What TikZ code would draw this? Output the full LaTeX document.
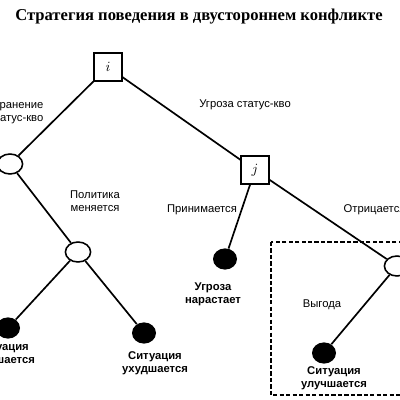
\documentclass[tikz,border=0pt]{standalone}
\usepackage{fontspec}
\setmainfont{Liberation Sans}
\newfontfamily\titlefont{Liberation Serif}
\usetikzlibrary{shapes.geometric}
\tikzset{
 decbox/.style={draw,line width=1.3pt,minimum size=6.8mm,inner sep=0pt,font=\itshape},
 chance/.style={ellipse,draw,line width=1.1pt,minimum width=6.3mm,minimum height=5mm,inner sep=0pt},
 outcome/.style={ellipse,fill=black,minimum width=6mm,minimum height=5.3mm,inner sep=0pt},
 lab/.style={font=\fontsize{8}{9.5}\selectfont,align=center,inner sep=1pt},
 res/.style={lab,font=\fontsize{8}{9.5}\selectfont\bfseries},
 branch/.style={line width=1.2pt}
}
\begin{document}
\begin{tikzpicture}[x=0.025cm,y=-0.025cm]
\useasboundingbox (0,0) rectangle (400,400);
\clip (0,0) rectangle (400,400);
\node[font=\titlefont\fontsize{11.8}{14}\selectfont\bfseries] (title) at (199,17) {Стратегия поведения в двустороннем конфликте};
% decision and chance nodes
\node[decbox] (i) at (108,67) {$i$};
\node[decbox] (j) at (255,170) {$j$};
\node[chance] (s) at (10,164) {};
\node[chance] (p) at (78,252) {};
\node[chance] (r) at (397,266) {};
% outcomes
\node[outcome] (a) at (8,328) {};
\node[outcome] (b) at (144,333) {};
\node[outcome] (c) at (225,259) {};
\node[outcome] (d) at (324,353) {};
\foreach \u/\v in {i/s,i/j,s/p,p/a,p/b,j/c,j/r,r/d}
 \draw[branch] (\u)--(\v);
% labels
\node[lab,align=right,anchor=east] (l1) at (45,112) {Сохранение\\статус-кво};
\node[lab] (l2) at (245,105) {Угроза статус-кво};
\node[lab] (l3) at (95,201) {Политика\\меняется};
\node[lab] (l4) at (202,210) {Принимается};
\node[lab,anchor=west] (l5) at (342,210) {Отрицается};
\node[lab] (l6) at (322,305) {Выгода};
\node[res] (ra) at (2,354) {Ситуация\\улучшается};
\node[res] (rb) at (155,363) {Ситуация\\ухудшается};
\node[res] (rc) at (213,294) {Угроза\\нарастает};
\node[res] (rd) at (334,378) {Ситуация\\улучшается};
\draw[line width=1.2pt,dash pattern=on 3pt off 1.6pt] (271,242) rectangle (420,395);
\end{tikzpicture}
\end{document}
